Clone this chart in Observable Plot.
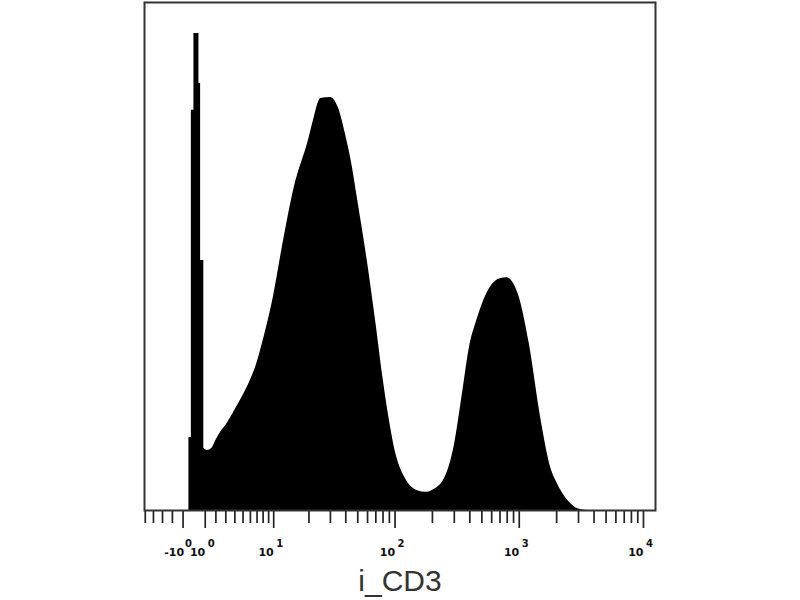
<!DOCTYPE html>
<html>
<head>
<meta charset="utf-8">
<script src="https://cdn.jsdelivr.net/npm/d3@7"></script>
<script src="https://cdn.jsdelivr.net/npm/@observablehq/plot@0.6"></script>
<style>
  html, body { margin: 0; padding: 0; background: #fff; }
  #chart svg { display: block; }
</style>
</head>
<body>
<div id="chart"></div>
<script>
// Histogram of i_CD3: the narrow spike near zero (step edges) ...
const spikeIntensity = [-0.47, -0.47, -0.25, -0.25, -0.02, -0.02, 0.43, 0.43, 0.58, 0.58, 0.87, 0.87, 0.95];
const spikeCounts = [0, 15.3, 15.3, 83.9, 83.9, 100, 100, 89.5, 89.5, 52.4, 52.4, 13.0, 12.9];
// ... and the smooth part of the distribution (raw intensity, % of max)
const intensity = [0.87, 1.2, 1.6, 2, 2.5, 3, 4, 5, 6, 7, 8, 10, 12, 15, 20, 22, 25, 30, 35, 40, 45, 50, 60, 70, 80, 90, 100, 120, 150, 180, 200, 250, 300, 350, 400, 450, 500, 600, 700, 800, 900, 1000, 1200, 1500, 1800, 2000, 2500, 3000, 3500];
const counts = [13.0, 12.6, 13.0, 14.7, 16.5, 17.8, 21.0, 24.1, 27.3, 31.0, 35.6, 45.1, 55.6, 67.5, 78.0, 82.2, 86.4, 86.6, 84.3, 78.6, 72.3, 65.0, 52.0, 39.4, 27.7, 18.9, 12.6, 6.9, 4.2, 3.8, 4.2, 6.7, 13.6, 24.7, 34.6, 39.4, 43.0, 47.2, 48.6, 48.8, 47.6, 44.7, 35.2, 18.9, 8.8, 5.9, 1.9, 0.3, 0];

// axis ticks
const majorTicks = [-1, 1, 10, 100, 1000, 10000];
const minorTicks = [-5, -4, -3, -2, 2, 3, 4, 5, 6, 7, 8, 9,
  20, 30, 40, 50, 60, 70, 80, 90, 200, 300, 400, 500, 600, 700, 800, 900,
  2000, 3000, 4000, 5000, 6000, 7000, 8000, 9000];
const labelValues = [-1, 1, 10, 100, 1000, 10000];
const labelBase = ["-10", "10", "10", "10", "10", "10"];
const labelExp = ["0", "0", "1", "2", "3", "4"];
const xRange = [-5.1, 12500];
const yMax = 106.5;
const axisTitle = "i_CD3";

// biexponential-like display transform
const W = 4.83;
const biex = v => Math.asinh(v / W);

const spike = spikeIntensity.map((v, i) => ({v, c: spikeCounts[i]}));
const hist = intensity.map((v, i) => ({v, c: counts[i]}));
const labels = labelValues.map((v, i) => ({v, base: labelBase[i], exp: labelExp[i], neg: v < 0}));
const posLabels = labels.filter(d => !d.neg);
const negLabels = labels.filter(d => d.neg);

const tickFont = "DejaVu Sans, Verdana, sans-serif";
const titleFont = "Liberation Sans, Arial, sans-serif";
const baseStyle = {frameAnchor: "bottom", dy: 45, textAnchor: "end", lineAnchor: "bottom", fontSize: 11, fontWeight: "bold", fontFamily: tickFont, fill: "#111"};
const expStyle = {frameAnchor: "bottom", dy: 36, textAnchor: "start", lineAnchor: "bottom", fontSize: 10, fontWeight: "bold", fontFamily: tickFont, fill: "#111"};

const chart = Plot.plot({
  width: 800,
  height: 600,
  marginLeft: 144,
  marginRight: 145,
  marginTop: 2,
  marginBottom: 90,
  x: {type: "linear", domain: xRange.map(biex)},
  y: {domain: [0, yMax], axis: null},
  marks: [
    Plot.area(spike, {x1: d => biex(d.v), y1: 0, y2: "c", fill: "#000", curve: "linear"}),
    Plot.area(hist, {x1: d => biex(d.v), y1: 0, y2: "c", fill: "#000", curve: "monotone-x"}),
    Plot.axisX(majorTicks.map(biex), {tickSize: 18, tickFormat: () => "", stroke: "#222", strokeWidth: 1.7, label: null}),
    Plot.axisX(minorTicks.map(biex), {tickSize: 13, tickFormat: () => "", stroke: "#222", strokeWidth: 1.7, label: null}),
    Plot.text(posLabels, {x: d => biex(d.v), text: "base", dx: 0, ...baseStyle}),
    Plot.text(posLabels, {x: d => biex(d.v), text: "exp", dx: 2.5, ...expStyle}),
    Plot.text(negLabels, {x: d => biex(d.v), text: "base", dx: 1, ...baseStyle}),
    Plot.text(negLabels, {x: d => biex(d.v), text: "exp", dx: 2, ...expStyle}),
    Plot.text([axisTitle], {text: d => d, frameAnchor: "bottom", dy: 80, lineAnchor: "bottom", fontSize: 30, fontFamily: titleFont, fill: "#333"}),
    Plot.frame({stroke: "#333", strokeWidth: 2})
  ]
});
document.getElementById("chart").appendChild(chart);
</script>
</body>
</html>
